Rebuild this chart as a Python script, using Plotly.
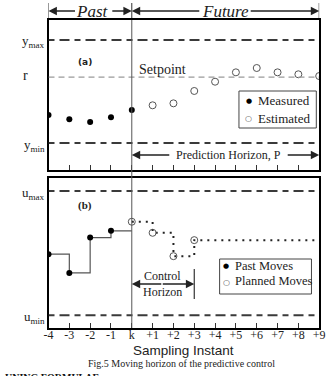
import plotly.graph_objects as go

# ---------------- data ----------------
x_vals = [-4, -3, -2, -1, 0, 1, 2, 3, 4, 5, 6, 7, 8, 9]
tick_text = ["-4", "-3", "-2", "-1", "k", "+1", "+2", "+3", "+4", "+5", "+6", "+7", "+8", "+9"]

measured_x = [-4, -3, -2, -1, 0]
measured_y = [2.72, 2.30, 2.04, 2.50, 3.20]
estimated_x = [1, 2, 3, 4, 5, 6, 7, 8, 9]
estimated_y = [3.66, 3.85, 5.05, 5.95, 6.86, 7.28, 6.86, 6.67, 6.50]

y_min, y_max, setpoint = 0.0, 10.0, 6.4
u_min, u_max = 0.0, 10.0

past_x = [-4, -3, -2, -1]
past_u = [4.92, 3.41, 6.26, 6.80]
planned_x = [0, 1, 2, 3]
planned_u = [7.53, 6.64, 4.76, 6.05]
horizon_end = 9
control_horizon = 3

legend_top = ["Measured", "Estimated"]
legend_bottom = ["Past Moves", "Planned Moves"]

serif = "Liberation Serif"
dark = "#3a3a3a"

fig = go.Figure()

# top panel
fig.add_trace(go.Scatter(x=measured_x, y=measured_y, mode="markers", name=legend_top[0],
                         marker=dict(color="black", size=6), xaxis="x", yaxis="y", showlegend=False))
fig.add_trace(go.Scatter(x=estimated_x, y=estimated_y, mode="markers", name=legend_top[1],
                         marker=dict(symbol="circle-open", color="#555", size=7, line=dict(width=1)),
                         xaxis="x", yaxis="y", showlegend=False))

# bottom panel: step lines
fig.add_trace(go.Scatter(x=past_x + [0], y=past_u + [past_u[-1]], mode="lines", line_shape="hv",
                         line=dict(color="#555", width=1.2), showlegend=False, xaxis="x2", yaxis="y2"))
fig.add_trace(go.Scatter(x=planned_x + [horizon_end], y=planned_u + [planned_u[-1]], mode="lines",
                         line_shape="hv", line=dict(color="#222", width=2, dash="2px,5px"),
                         showlegend=False, xaxis="x2", yaxis="y2"))
fig.add_trace(go.Scatter(x=past_x, y=past_u, mode="markers", name=legend_bottom[0],
                         marker=dict(color="black", size=6), xaxis="x2", yaxis="y2", showlegend=False))
fig.add_trace(go.Scatter(x=planned_x, y=planned_u, mode="markers", name=legend_bottom[1],
                         marker=dict(symbol="circle-open", color="#555", size=7, line=dict(width=1)),
                         xaxis="x2", yaxis="y2", showlegend=False))

W, H = 331, 376
def px(v):  # pixel from left -> paper
    return v / W
def py(v):  # pixel from top -> paper
    return 1 - v / H

xdom = [px(45), px(325)]
axis_common = dict(range=[-4, 9], domain=xdom, showgrid=False, zeroline=False,
                   showline=True, linecolor="black", linewidth=2, mirror=True,
                   ticks="inside", ticklen=5, tickcolor="#333", tickwidth=1,
                   tickvals=x_vals, ticktext=tick_text)

fig.update_layout(
    width=W, height=H, margin=dict(l=0, r=0, t=0, b=0),
    paper_bgcolor="white", plot_bgcolor="white", showlegend=False,
    xaxis=dict(axis_common, anchor="y", showticklabels=False),
    yaxis=dict(domain=[py(170), py(20)], range=[-2.62, 11.94], showgrid=False, zeroline=False,
               showline=True, linecolor="black", linewidth=2, mirror=True, showticklabels=False, ticks=""),
    xaxis2=dict(axis_common, anchor="y2", showticklabels=True, ticklabeloverflow="allow",
                ticklabelstandoff=-5,
                tickfont=dict(family=serif, size=12, color="#222")),
    yaxis2=dict(domain=[py(328), py(178)], range=[-1.02, 11.05], showgrid=False, zeroline=False,
                showline=True, linecolor="black", linewidth=2, mirror=True, showticklabels=False, ticks=""),
)

# constraint / setpoint lines
for yv, ax in [(y_max, "y"), (y_min, "y"), (u_max, "y2"), (u_min, "y2")]:
    fig.add_shape(type="line", xref="x", yref=ax, x0=-4, x1=9, y0=yv, y1=yv,
                  line=dict(color=dark, width=2, dash="6px,5px,10px,5px"))
fig.add_shape(type="line", xref="x", yref="y", x0=-4, x1=9, y0=setpoint, y1=setpoint,
              line=dict(color="#9a9a9a", width=1.2, dash="6px,4px"))

# k vertical line through both panels
fig.add_shape(type="line", xref="x", yref="paper", x0=0, x1=0, y0=py(328), y1=py(20),
              line=dict(color="#555", width=1))

# header bars
for xv in [-4, 0, 9]:
    fig.add_shape(type="line", xref="x", yref="paper", x0=xv, x1=xv, y0=py(3), y1=py(18),
                  line=dict(color="#333", width=1))
# control horizon bar
fig.add_shape(type="line", xref="x2", yref="paper", x0=control_horizon, x1=control_horizon,
              y0=py(299), y1=py(269), line=dict(color="#333", width=1.2))

# legend boxes
fig.add_shape(type="rect", xref="paper", yref="paper", x0=px(242), x1=px(322), y0=py(128), y1=py(91),
              line=dict(color="#444", width=1), fillcolor="white", layer="above")
fig.add_shape(type="rect", xref="paper", yref="paper", x0=px(222), x1=px(317), y0=py(294), y1=py(259),
              line=dict(color="#444", width=1), fillcolor="white", layer="above")

ann = []
def arrow(x, y, xr, yr, axpx):
    ann.append(dict(x=x, y=y, xref=xr, yref=yr, ax=axpx, ay=0, text="", showarrow=True,
                    arrowhead=2, arrowsize=1.2, arrowwidth=1.4, arrowcolor="#222", standoff=0))

def label(xp, yp, text, size, family=serif, xanchor="center", color="#222"):
    ann.append(dict(x=px(xp), y=py(yp), xref="paper", yref="paper", text=text, showarrow=False,
                    xanchor=xanchor, yanchor="middle",
                    font=dict(family=family, size=size, color=color)))

hy = py(11)
arrow(-4, hy, "x", "paper", 28)
arrow(0, hy, "x", "paper", -21)
arrow(0, hy, "x", "paper", 69)
arrow(9, hy, "x", "paper", -70)
label(91, 11, "<i>Past</i>", 17)
label(228, 11, "<i>Future</i>", 17)

# prediction horizon
ph = py(155)
arrow(0, ph, "x", "paper", 39)
arrow(9, ph, "x", "paper", -33)
label(231, 155, "Prediction Horizon, P", 12)

# control horizon
ch = py(284)
arrow(0, ch, "x2", "paper", 31)
arrow(control_horizon, ch, "x2", "paper", -33)
label(163, 276, "Control", 12)
label(163, 292, "Horizon", 12)

# legends (text)
label(252, 101.5, "●", 7, family="DejaVu Sans", color="#000")
label(252, 118.5, "○", 8, family="DejaVu Sans", color="#555")
label(260, 101, legend_top[0], 13, xanchor="left")
label(260, 118, legend_top[1], 13, xanchor="left")
label(229, 266, "●", 7, family="DejaVu Sans", color="#000")
label(229, 282, "○", 8, family="DejaVu Sans", color="#555")
label(236, 266, legend_bottom[0], 12.5, xanchor="left")
label(236, 281, legend_bottom[1], 12.5, xanchor="left")

# labels
label(137, 69, "Setpoint", 14, xanchor="left")
label(83, 62, "<b>(a)</b>", 9, family="DejaVu Sans")
label(83, 205, "<b>(b)</b>", 11)

for txt, yp in [("y<sub>max</sub>", 42), ("y<sub>min</sub>", 145), ("u<sub>max</sub>", 193),
                ("u<sub>min</sub>", 317)]:
    label(43, yp, txt, 13, xanchor="right")
label(21, 75, "r", 14)

label(185, 350, "Sampling Instant", 13.5, family="Liberation Sans")
label(183, 363, "Fig.5 Moving horizon of the predictive control", 10)
label(-2, 377, "<b>UNING FORMULAE</b>", 10, xanchor="left", color="#111")

fig.update_layout(annotations=ann)
fig.write_html("out.html")
